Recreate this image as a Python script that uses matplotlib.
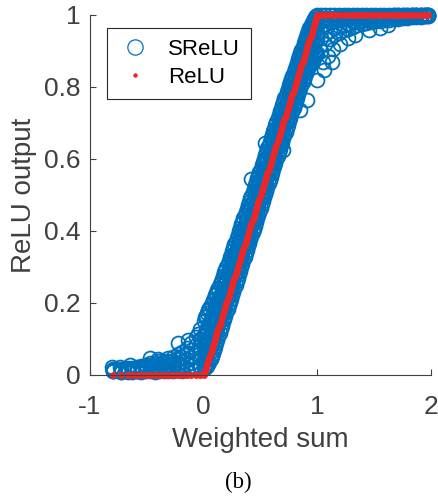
import matplotlib
matplotlib.use("Agg")
import matplotlib.pyplot as plt
from matplotlib.lines import Line2D

plt.rcParams["font.family"] = ["Liberation Sans", "DejaVu Sans"]

# =====================================================
# Data
# =====================================================

# weighted-sum inputs, shared by both series
relu_x = [
    -0.80, -0.73, -0.67, -0.63, -0.59, -0.55, -0.51, -0.47, -0.43, -0.39,
    -0.35, -0.31, -0.27, -0.23, -0.19, -0.15, -0.11, -0.07, -0.03,
    0.00, 0.01, 0.02, 0.03, 0.04, 0.05, 0.06, 0.07, 0.08, 0.09,
    0.10, 0.11, 0.12, 0.13, 0.14, 0.15, 0.16, 0.17, 0.18, 0.19,
    0.20, 0.21, 0.22, 0.23, 0.24, 0.25, 0.26, 0.27, 0.28, 0.29,
    0.30, 0.31, 0.32, 0.33, 0.34, 0.35, 0.36, 0.37, 0.38, 0.39,
    0.40, 0.41, 0.42, 0.43, 0.44, 0.45, 0.46, 0.47, 0.48, 0.49,
    0.50, 0.51, 0.52, 0.53, 0.54, 0.55, 0.56, 0.57, 0.58, 0.59,
    0.60, 0.61, 0.62, 0.63, 0.64, 0.65, 0.66, 0.67, 0.68, 0.69,
    0.70, 0.71, 0.72, 0.73, 0.74, 0.75, 0.76, 0.77, 0.78, 0.79,
    0.80, 0.81, 0.82, 0.83, 0.84, 0.85, 0.86, 0.87, 0.88, 0.89,
    0.90, 0.91, 0.92, 0.93, 0.94, 0.95, 0.96, 0.97, 0.98, 0.99,
    1.00,
    1.03, 1.07, 1.11, 1.15, 1.19, 1.23, 1.27, 1.31, 1.35, 1.39,
    1.43, 1.47, 1.51, 1.55, 1.59, 1.63, 1.67, 1.71, 1.75, 1.79,
    1.83, 1.87, 1.91, 1.95, 1.97,
]

relu_y = [
    0, 0, 0, 0, 0, 0, 0, 0, 0, 0,
    0, 0, 0, 0, 0, 0, 0, 0, 0,
    0.00, 0.01, 0.02, 0.03, 0.04, 0.05, 0.06, 0.07, 0.08, 0.09,
    0.10, 0.11, 0.12, 0.13, 0.14, 0.15, 0.16, 0.17, 0.18, 0.19,
    0.20, 0.21, 0.22, 0.23, 0.24, 0.25, 0.26, 0.27, 0.28, 0.29,
    0.30, 0.31, 0.32, 0.33, 0.34, 0.35, 0.36, 0.37, 0.38, 0.39,
    0.40, 0.41, 0.42, 0.43, 0.44, 0.45, 0.46, 0.47, 0.48, 0.49,
    0.50, 0.51, 0.52, 0.53, 0.54, 0.55, 0.56, 0.57, 0.58, 0.59,
    0.60, 0.61, 0.62, 0.63, 0.64, 0.65, 0.66, 0.67, 0.68, 0.69,
    0.70, 0.71, 0.72, 0.73, 0.74, 0.75, 0.76, 0.77, 0.78, 0.79,
    0.80, 0.81, 0.82, 0.83, 0.84, 0.85, 0.86, 0.87, 0.88, 0.89,
    0.90, 0.91, 0.92, 0.93, 0.94, 0.95, 0.96, 0.97, 0.98, 0.99,
    1.00,
    1, 1, 1, 1, 1, 1, 1, 1, 1, 1,
    1, 1, 1, 1, 1, 1, 1, 1, 1, 1,
    1, 1, 1, 1, 1,
]

# SReLU outputs, read across the band from its upper to its lower edge
srelu_hi = [
    0.018, 0.016, 0.020, 0.019, 0.022, 0.025, 0.028, 0.034, 0.032, 0.038,
    0.040, 0.047, 0.050, 0.058, 0.063, 0.076, 0.088, 0.105, 0.128,
    0.150, 0.162, 0.165, 0.172, 0.180, 0.186, 0.194, 0.198, 0.207, 0.212,
    0.221, 0.227, 0.236, 0.241, 0.252, 0.258, 0.267, 0.274, 0.285, 0.291,
    0.300, 0.309, 0.316, 0.328, 0.334, 0.345, 0.352, 0.363, 0.370, 0.381,
    0.389, 0.400, 0.407, 0.418, 0.425, 0.436, 0.443, 0.454, 0.462, 0.472,
    0.480, 0.491, 0.498, 0.509, 0.517, 0.528, 0.536, 0.547, 0.554, 0.565,
    0.573, 0.584, 0.592, 0.601, 0.612, 0.620, 0.629, 0.640, 0.647, 0.658,
    0.666, 0.677, 0.684, 0.695, 0.703, 0.714, 0.721, 0.732, 0.740, 0.750,
    0.758, 0.769, 0.776, 0.787, 0.795, 0.805, 0.813, 0.823, 0.831, 0.841,
    0.849, 0.859, 0.867, 0.877, 0.885, 0.895, 0.903, 0.912, 0.921, 0.930,
    0.939, 0.947, 0.955, 0.963, 0.971, 0.978, 0.984, 0.990, 0.995, 0.998,
    1.000,
    1.000, 1.000, 0.999, 1.000, 1.000, 1.000, 0.999, 1.000, 1.000, 1.000,
    1.000, 0.999, 1.000, 1.000, 1.000, 1.000, 1.000, 0.999, 1.000, 1.000,
    1.000, 1.000, 1.000, 1.000, 1.000,
]

srelu_upper = [
    0.015, 0.013, 0.017, 0.016, 0.018, 0.021, 0.023, 0.027, 0.026, 0.031,
    0.032, 0.038, 0.040, 0.046, 0.050, 0.060, 0.069, 0.083, 0.100,
    0.108, 0.117, 0.124, 0.130, 0.138, 0.145, 0.153, 0.160, 0.169, 0.175,
    0.184, 0.191, 0.200, 0.209, 0.217, 0.225, 0.233, 0.242, 0.251, 0.259,
    0.268, 0.277, 0.285, 0.296, 0.304, 0.313, 0.322, 0.332, 0.341, 0.350,
    0.359, 0.370, 0.378, 0.387, 0.397, 0.406, 0.415, 0.426, 0.434, 0.443,
    0.452, 0.463, 0.471, 0.480, 0.490, 0.500, 0.509, 0.518, 0.528, 0.538,
    0.546, 0.556, 0.565, 0.575, 0.585, 0.593, 0.603, 0.613, 0.622, 0.631,
    0.640, 0.651, 0.659, 0.668, 0.678, 0.688, 0.697, 0.706, 0.715, 0.725,
    0.734, 0.744, 0.752, 0.762, 0.771, 0.781, 0.790, 0.799, 0.808, 0.818,
    0.827, 0.836, 0.845, 0.855, 0.864, 0.873, 0.882, 0.892, 0.901, 0.910,
    0.919, 0.927, 0.935, 0.944, 0.952, 0.960, 0.967, 0.974, 0.980, 0.986,
    0.990,
    0.985, 0.988, 0.990, 0.992, 0.993, 0.994, 0.995, 0.995, 0.996, 0.996,
    0.997, 0.997, 0.998, 0.998, 0.998, 0.998, 0.999, 0.999, 0.999, 0.999,
    0.999, 1.000, 1.000, 1.000, 1.000,
]

srelu_mid = [
    0.012, 0.010, 0.013, 0.012, 0.014, 0.016, 0.017, 0.020, 0.020, 0.023,
    0.024, 0.028, 0.030, 0.034, 0.037, 0.044, 0.050, 0.060, 0.072,
    0.065, 0.072, 0.080, 0.088, 0.097, 0.104, 0.113, 0.121, 0.130, 0.138,
    0.147, 0.156, 0.164, 0.174, 0.182, 0.192, 0.200, 0.210, 0.218, 0.228,
    0.237, 0.246, 0.255, 0.265, 0.274, 0.283, 0.293, 0.302, 0.311, 0.321,
    0.330, 0.340, 0.349, 0.359, 0.368, 0.378, 0.387, 0.397, 0.406, 0.416,
    0.425, 0.435, 0.444, 0.454, 0.463, 0.473, 0.482, 0.492, 0.501, 0.511,
    0.520, 0.530, 0.539, 0.549, 0.558, 0.568, 0.577, 0.587, 0.596, 0.606,
    0.615, 0.625, 0.634, 0.644, 0.653, 0.663, 0.672, 0.682, 0.691, 0.701,
    0.710, 0.720, 0.729, 0.739, 0.748, 0.758, 0.767, 0.777, 0.786, 0.796,
    0.805, 0.815, 0.824, 0.834, 0.843, 0.853, 0.862, 0.872, 0.881, 0.891,
    0.899, 0.908, 0.916, 0.925, 0.933, 0.942, 0.950, 0.958, 0.966, 0.973,
    0.980,
    0.970, 0.976, 0.980, 0.984, 0.986, 0.988, 0.990, 0.991, 0.992, 0.993,
    0.994, 0.995, 0.995, 0.996, 0.996, 0.997, 0.997, 0.998, 0.998, 0.998,
    0.999, 0.999, 0.999, 1.000, 1.000,
]

srelu_lower = [
    0.011, 0.009, 0.011, 0.010, 0.012, 0.013, 0.014, 0.015, 0.014, 0.017,
    0.017, 0.020, 0.021, 0.024, 0.025, 0.030, 0.034, 0.040, 0.049,
    0.042, 0.047, 0.051, 0.056, 0.063, 0.071, 0.078, 0.086, 0.095, 0.104,
    0.113, 0.121, 0.131, 0.141, 0.149, 0.160, 0.168, 0.177, 0.187, 0.196,
    0.206, 0.214, 0.224, 0.234, 0.243, 0.252, 0.262, 0.272, 0.281, 0.290,
    0.300, 0.309, 0.319, 0.329, 0.338, 0.347, 0.357, 0.367, 0.377, 0.386,
    0.396, 0.405, 0.415, 0.425, 0.434, 0.443, 0.453, 0.463, 0.473, 0.482,
    0.492, 0.501, 0.511, 0.521, 0.530, 0.539, 0.549, 0.559, 0.568, 0.578,
    0.588, 0.597, 0.607, 0.617, 0.626, 0.635, 0.645, 0.655, 0.664, 0.674,
    0.683, 0.692, 0.702, 0.712, 0.721, 0.730, 0.740, 0.750, 0.759, 0.768,
    0.778, 0.788, 0.797, 0.806, 0.815, 0.824, 0.834, 0.843, 0.851, 0.860,
    0.868, 0.876, 0.884, 0.891, 0.898, 0.905, 0.912, 0.919, 0.925, 0.931,
    0.936,
    0.935, 0.947, 0.956, 0.963, 0.968, 0.972, 0.976, 0.979, 0.981, 0.983,
    0.985, 0.987, 0.988, 0.990, 0.991, 0.992, 0.993, 0.994, 0.994, 0.995,
    0.996, 0.996, 0.997, 0.998, 0.998,
]

srelu_lo = [
    0.010, 0.008, 0.009, 0.008, 0.010, 0.009, 0.011, 0.010, 0.009, 0.011,
    0.010, 0.012, 0.011, 0.013, 0.012, 0.015, 0.017, 0.020, 0.026,
    0.020, 0.020, 0.022, 0.026, 0.030, 0.036, 0.044, 0.052, 0.061, 0.070,
    0.079, 0.089, 0.098, 0.108, 0.117, 0.127, 0.136, 0.146, 0.155, 0.165,
    0.174, 0.184, 0.193, 0.203, 0.212, 0.222, 0.231, 0.241, 0.250, 0.260,
    0.270, 0.280, 0.289, 0.299, 0.309, 0.318, 0.328, 0.338, 0.347, 0.357,
    0.367, 0.377, 0.386, 0.396, 0.406, 0.415, 0.425, 0.435, 0.444, 0.454,
    0.464, 0.474, 0.483, 0.493, 0.503, 0.512, 0.522, 0.532, 0.541, 0.551,
    0.561, 0.571, 0.580, 0.590, 0.599, 0.609, 0.619, 0.628, 0.638, 0.647,
    0.657, 0.667, 0.676, 0.686, 0.695, 0.705, 0.714, 0.724, 0.733, 0.742,
    0.752, 0.761, 0.770, 0.779, 0.788, 0.797, 0.806, 0.814, 0.822, 0.830,
    0.838, 0.845, 0.852, 0.858, 0.864, 0.870, 0.875, 0.880, 0.885, 0.889,
    0.893,
    0.900, 0.918, 0.932, 0.943, 0.951, 0.957, 0.962, 0.967, 0.971, 0.974,
    0.977, 0.980, 0.982, 0.984, 0.986, 0.987, 0.989, 0.990, 0.991, 0.992,
    0.993, 0.994, 0.995, 0.996, 0.996,
]

# scattered SReLU points away from the main band
outlier_x = [
    -0.81, -0.74, -0.65, -0.475, -0.40, -0.23, -0.14, -0.05, -0.02, 0.00,
    0.02, 0.42, 0.537, 0.695, 0.845, 0.905, 1.00, 1.06, 1.13, 1.05,
    1.09, 1.14, 1.20, 1.27, 1.33, 1.45, 1.55, 1.62, 1.96,
]
outlier_y = [
    0.022, 0.022, 0.028, 0.047, 0.045, 0.089, 0.097, 0.115, 0.100, 0.110,
    0.120, 0.545, 0.644, 0.625, 0.736, 0.764, 0.820, 0.847, 0.870, 0.870,
    0.885, 0.905, 0.920, 0.935, 0.945, 0.958, 0.965, 0.972, 1.000,
]

BLUE = "#0072BD"
RED = "#EE2626"
GREY = "#404040"

# =====================================================
# Plot
# =====================================================

fig = plt.figure(figsize=(4.39, 4.97), dpi=100)
ax = fig.add_axes([0.205, 0.2455, 0.777, 0.7245])

circle_style = dict(
    linestyle="none",
    marker="o",
    markersize=10,
    markerfacecolor="none",
    markeredgecolor=BLUE,
    markeredgewidth=1.3,
    clip_on=False
)

for ys in (srelu_hi, srelu_upper, srelu_mid, srelu_lower, srelu_lo):
    ax.plot(relu_x, ys, **circle_style)
ax.plot(outlier_x, outlier_y, **circle_style)

ax.plot(
    relu_x,
    relu_y,
    linestyle="none",
    marker="o",
    markersize=5,
    markerfacecolor=RED,
    markeredgecolor="none",
    clip_on=False
)

ax.set_xlim(-1, 2)
ax.set_ylim(0, 1)
ax.set_xticks([-1, 0, 1, 2])
ax.set_xticklabels(["-1", "0", "1", "2"])
ax.set_yticks([0, 0.2, 0.4, 0.6, 0.8, 1])
ax.set_yticklabels(["0", "0.2", "0.4", "0.6", "0.8", "1"])

for side in ["top", "right"]:
    ax.spines[side].set_visible(False)
for side in ["left", "bottom"]:
    ax.spines[side].set_color(GREY)
    ax.spines[side].set_linewidth(0.8)

ax.tick_params(
    direction="in",
    length=4,
    width=0.8,
    color=GREY,
    labelcolor=GREY,
    labelsize=19
)
ax.tick_params(axis="x", pad=14.5)
ax.tick_params(axis="y", pad=7)

ax.set_xlabel("Weighted sum", fontsize=20, color=GREY, labelpad=5.5)
ax.set_ylabel("ReLU output", fontsize=20, color=GREY, labelpad=5)

handles = [
    Line2D([], [], linestyle="none", marker="o", markersize=11,
           markerfacecolor="none", markeredgecolor=BLUE, markeredgewidth=0.9),
    Line2D([], [], linestyle="none", marker="o", markersize=3.2,
           markerfacecolor=RED, markeredgecolor="none"),
]
leg = ax.legend(
    handles,
    ["SReLU", "ReLU"],
    loc="upper left",
    bbox_to_anchor=(0.05, 0.964),
    borderaxespad=0,
    fontsize=16,
    frameon=True,
    fancybox=False,
    framealpha=1,
    edgecolor="#262626",
    handlelength=1.5,
    handletextpad=0.75,
    labelspacing=0.3,
    borderpad=0.5
)
leg.get_frame().set_linewidth(0.8)

fig.text(238 / 439, 1 - 482 / 497, "(b)", ha="center", va="center",
         fontsize=16.5, family=["Liberation Serif", "DejaVu Serif"])

fig.savefig("out.png", dpi=100)
